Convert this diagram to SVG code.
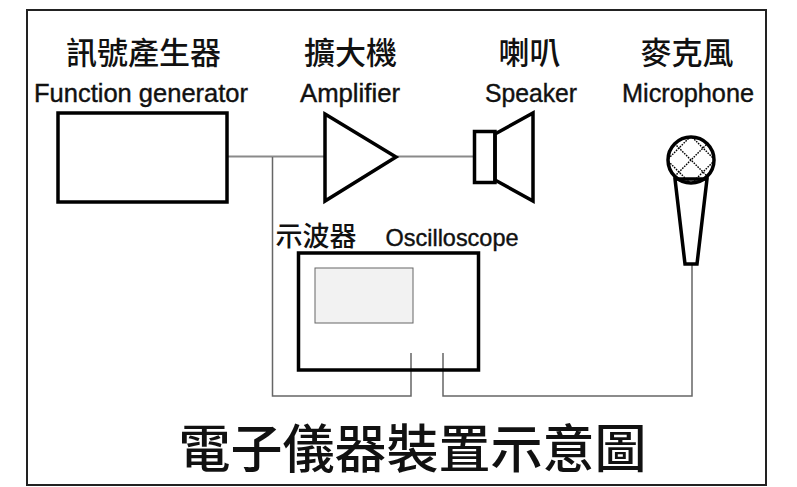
<svg xmlns="http://www.w3.org/2000/svg" width="797" height="487" viewBox="0 0 797 487">
  <style>
    .cjk { font-family: "Noto Sans CJK TC", "Noto Sans CJK SC", sans-serif; font-weight: 500; fill: #111; text-anchor: middle; }
    .lat { font-family: "Liberation Sans", "DejaVu Sans", sans-serif; fill: #111; text-anchor: middle; stroke: #111; stroke-width: 0.4; }
    .thick { fill: none; stroke: #000; stroke-width: 3.5; stroke-linejoin: miter; }
    .wire { fill: none; stroke: #666; stroke-width: 1.5; }
    .wire-lt { fill: none; stroke: #8a8a8a; stroke-width: 2; }
    .hatch { stroke: #000; stroke-width: 1.4; stroke-dasharray: 1.6 1.1; }
  </style>
  <defs>
    <clipPath id="micClip">
      <circle cx="691" cy="160" r="22"/>
    </clipPath>
  </defs>

  <rect width="797" height="487" fill="#fff"/>
  <!-- frame -->
  <rect x="27" y="10" width="739" height="475" fill="none" stroke="#222" stroke-width="2"/>

  <!-- wiring -->
  <g id="connectors">
    <line class="wire-lt" x1="228" y1="156.5" x2="325" y2="156.5"/>
    <line class="wire-lt" x1="397" y1="156.5" x2="474" y2="156.5"/>
    <polyline class="wire" points="272.5,157 272.5,396 411,396 411,353"/>
    <polyline class="wire" points="443,353 443,396 692,396 692,264"/>
  </g>

  <!-- function generator -->
  <g id="function-generator">
    <text class="cjk" x="143.5" y="64" font-size="31">訊號產生器</text>
    <text class="lat" x="141" y="102" font-size="25" textLength="214" lengthAdjust="spacingAndGlyphs">Function  generator</text>
    <rect class="thick" x="58" y="113" width="169" height="89"/>
  </g>

  <!-- amplifier -->
  <g id="amplifier">
    <text class="cjk" x="350.5" y="64" font-size="31">擴大機</text>
    <text class="lat" x="350" y="102" font-size="25" textLength="100" lengthAdjust="spacingAndGlyphs">Amplifier</text>
    <polygon class="thick" points="325,114 396,157 325,201"/>
  </g>

  <!-- speaker -->
  <g id="speaker">
    <text class="cjk" x="529.5" y="64" font-size="31">喇叭</text>
    <text class="lat" x="531" y="102" font-size="25" textLength="92" lengthAdjust="spacingAndGlyphs">Speaker</text>
    <rect class="thick" x="474.5" y="131.5" width="20.5" height="51"/>
    <polygon class="thick" points="495,134 533,113 533,201 495,180"/>
  </g>

  <!-- microphone -->
  <g id="microphone">
    <text class="cjk" x="687" y="64" font-size="31">麥克風</text>
    <text class="lat" x="688" y="102" font-size="25" textLength="132" lengthAdjust="spacingAndGlyphs">Microphone</text>
    <g clip-path="url(#micClip)">
      <line class="hatch" x1="655" y1="148" x2="703" y2="196"/>
      <line class="hatch" x1="667" y1="136" x2="715" y2="184"/>
      <line class="hatch" x1="679" y1="124" x2="727" y2="172"/>
      <line class="hatch" x1="655" y1="172" x2="703" y2="124"/>
      <line class="hatch" x1="667" y1="184" x2="715" y2="136"/>
      <line class="hatch" x1="679" y1="196" x2="727" y2="148"/>
    </g>
    <polygon class="thick" points="675,179 707,179 697,264 685,264"/>
    <circle class="thick" cx="691" cy="160" r="23" fill="none"/>
  </g>

  <!-- oscilloscope -->
  <g id="oscilloscope">
    <text class="cjk" x="316" y="246" font-size="27">示波器</text>
    <text class="lat" x="452" y="246" font-size="24" textLength="133" lengthAdjust="spacingAndGlyphs">Oscilloscope</text>
    <rect class="thick" x="298.5" y="253" width="180" height="117"/>
    <rect x="315" y="268" width="98" height="55" fill="#f2f2f2" stroke="#666" stroke-width="1"/>
  </g>

  <!-- caption -->
  <text class="cjk" x="412.5" y="468" font-size="52">電子儀器裝置示意圖</text>
</svg>
